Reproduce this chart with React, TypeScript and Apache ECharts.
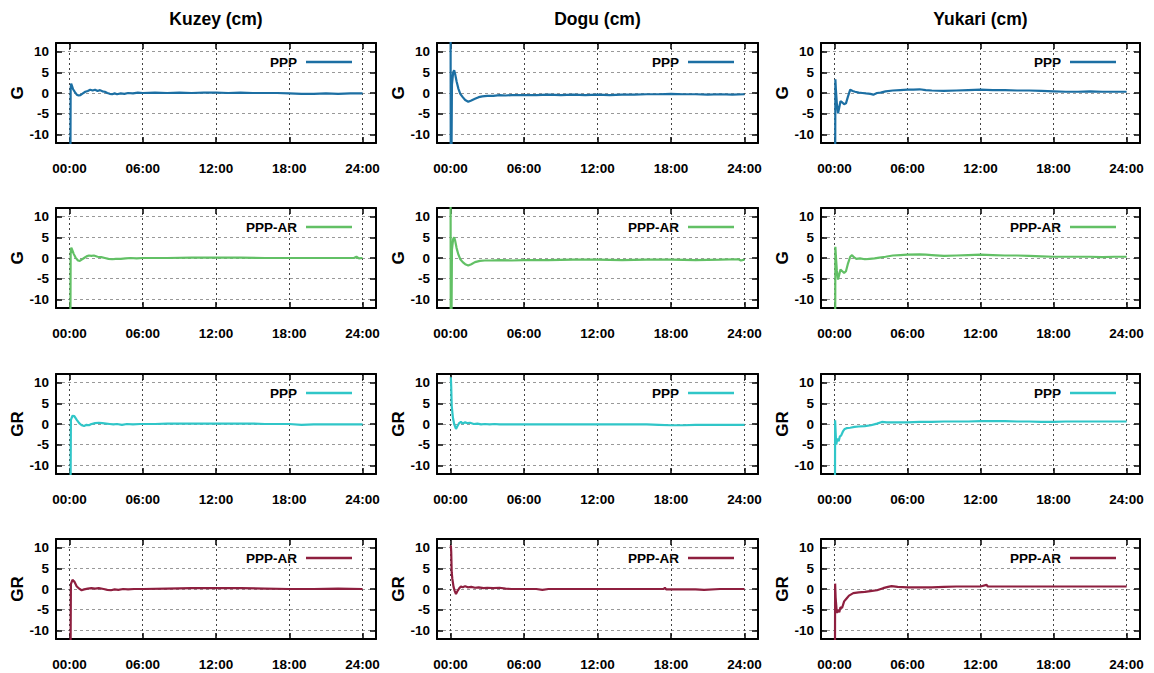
import React, { useEffect, useRef } from "react";
import * as echarts from "echarts";

// ---------- data ----------
const columnTitles = ["Kuzey (cm)", "Dogu (cm)", "Yukari (cm)"];
const rowLabels = ["G", "G", "GR", "GR"];
const rowMethods = ["PPP", "PPP-AR", "PPP", "PPP-AR"];
const rowColors = ["#1c6fa3", "#62c065", "#30c6c8", "#8e1f3f"];
const xTicks = [0, 6, 12, 18, 24];
const xTickLabels = ["00:00", "06:00", "12:00", "18:00", "24:00"];
const yTicks = [-10, -5, 0, 5, 10];

const kuzeyG_PPP = [[0.05,-40],[0.1,1.0],[0.14,2.3],[0.2,1.8],[0.3,0.9],[0.45,0.2],[0.6,-0.4],[0.75,-0.6],[0.9,-0.5],[1.1,-0.1],[1.3,0.3],[1.5,0.5],[1.7,0.8],[1.9,0.6],[2.1,0.8],[2.3,0.5],[2.5,0.7],[2.7,0.4],[2.9,0.3],[3.1,0.0],[3.3,-0.2],[3.5,-0.3],[3.7,-0.1],[3.9,-0.3],[4.2,-0.1],[4.5,-0.2],[4.8,0.0],[5.2,-0.1],[5.6,0.1],[6.0,0.0],[7,0.1],[8,0.0],[9,0.1],[10,0.0],[11,0.1],[12,0.1],[13,0.0],[14,0.1],[15,0.0],[16,0.0],[17,0.0],[18,-0.1],[19,-0.2],[20,-0.2],[21,-0.1],[22,-0.2],[23,-0.1],[24,-0.1]];
const kuzeyG_AR = [[0.05,-40],[0.1,1.2],[0.15,2.5],[0.22,2.0],[0.35,1.0],[0.5,0.1],[0.7,-0.6],[0.85,-0.7],[1.0,-0.4],[1.2,0.0],[1.4,0.4],[1.6,0.6],[1.8,0.5],[2.0,0.6],[2.3,0.3],[2.6,0.2],[2.9,0.0],[3.2,-0.2],[3.5,-0.3],[3.8,-0.2],[4.2,-0.2],[4.6,-0.1],[5.0,0.0],[5.5,-0.1],[6,0.0],[8,0.0],[10,0.1],[12,0.1],[14,0.1],[16,0.0],[18,0.0],[20,0.0],[22,0.0],[23.3,0.0],[23.5,0.3],[23.7,-0.1],[24,0.0]];
const kuzeyGR_PPP = [[0.05,-40],[0.12,1.0],[0.25,2.0],[0.4,1.9],[0.6,1.0],[0.8,0.2],[1.0,-0.3],[1.2,-0.5],[1.4,-0.2],[1.6,-0.3],[1.8,0.0],[2.1,0.2],[2.4,0.3],[2.7,0.2],[3.0,0.1],[3.3,0.0],[3.6,-0.1],[3.9,0.0],[4.3,-0.2],[4.7,0.0],[5.2,-0.1],[5.8,0.0],[7,0.0],[8,0.1],[10,0.1],[12,0.1],[14,0.1],[15,0.1],[16,0.0],[18,0.0],[19,-0.2],[20,-0.1],[22,-0.1],[24,-0.1]];
const kuzeyGR_AR = [[0.05,-40],[0.12,1.2],[0.25,2.2],[0.4,1.8],[0.6,0.6],[0.8,0.1],[1.0,-0.3],[1.2,-0.1],[1.5,0.1],[1.8,0.2],[2.1,0.1],[2.4,0.2],[2.8,0.0],[3.1,-0.2],[3.4,-0.3],[3.7,-0.1],[4.0,-0.2],[4.4,0.0],[4.8,-0.1],[5.3,0.0],[6,0.0],[8,0.1],[10,0.2],[12,0.2],[14,0.2],[16,0.1],[18,0.0],[20,0.0],[22,0.1],[24,0.0]];

const doguG_PPP = [[0.0,40],[0.03,-40],[0.12,2.0],[0.22,5.0],[0.3,5.5],[0.38,4.6],[0.5,2.8],[0.65,1.0],[0.8,-0.2],[1.0,-1.0],[1.2,-1.7],[1.45,-2.1],[1.7,-1.8],[2.0,-1.4],[2.3,-1.0],[2.6,-0.8],[3.0,-0.7],[3.5,-0.7],[4.0,-0.5],[4.5,-0.6],[5.0,-0.5],[6,-0.5],[7,-0.5],[8,-0.4],[9,-0.5],[10,-0.4],[11,-0.5],[12,-0.4],[13,-0.5],[14,-0.4],[15,-0.4],[16,-0.3],[17,-0.3],[18,-0.2],[19,-0.3],[20,-0.3],[21,-0.4],[22,-0.3],[23,-0.4],[24,-0.3]];
const doguG_AR = [[0.0,40],[0.03,-40],[0.12,2.0],[0.22,4.6],[0.3,5.0],[0.38,4.2],[0.5,2.4],[0.65,0.8],[0.8,-0.3],[1.0,-1.0],[1.2,-1.5],[1.45,-1.8],[1.7,-1.5],[2.0,-1.0],[2.4,-0.7],[2.8,-0.6],[3.3,-0.6],[4,-0.5],[5,-0.6],[6,-0.5],[8,-0.5],[10,-0.4],[12,-0.4],[14,-0.5],[16,-0.4],[18,-0.4],[20,-0.5],[22,-0.4],[23.5,-0.3],[23.7,-0.6],[24,-0.4]];
const doguGR_PPP = [[0.03,11.3],[0.06,9],[0.1,4.4],[0.2,1.5],[0.3,0.0],[0.45,-1.2],[0.55,-0.6],[0.7,0.2],[0.85,0.5],[1.0,0.1],[1.2,0.4],[1.4,0.2],[1.6,0.3],[1.9,0.0],[2.2,0.1],[2.5,-0.1],[2.8,0.0],[3.2,-0.1],[3.6,0.0],[4,-0.1],[5,-0.1],[6,-0.1],[8,-0.1],[10,-0.1],[12,-0.1],[14,-0.1],[16,-0.1],[17,-0.2],[18,-0.3],[19,-0.3],[20,-0.2],[22,-0.2],[24,-0.2]];
const doguGR_AR = [[0.03,10.6],[0.06,9],[0.1,4.0],[0.15,2.5],[0.25,0.5],[0.35,-0.5],[0.45,-1.2],[0.55,-0.6],[0.7,0.1],[0.85,0.6],[1.0,0.4],[1.2,0.7],[1.4,0.4],[1.7,0.5],[2.0,0.3],[2.3,0.4],[2.7,0.2],[3.0,0.3],[3.5,0.2],[4.0,0.3],[4.5,0.1],[5,0.0],[6,0.0],[7,0.0],[7.5,-0.2],[8,0.0],[10,0.0],[12,0.0],[14,0.0],[16,0.0],[17.4,0.0],[17.5,0.3],[17.6,-0.1],[18,-0.1],[20,-0.1],[20.7,-0.2],[22,0.0],[24,0.0]];

const yukariG_PPP = [[0.05,-40],[0.08,3.3],[0.12,1.0],[0.2,-2.5],[0.3,-4.9],[0.4,-3.5],[0.5,-2.0],[0.65,-2.3],[0.8,-2.7],[0.95,-2.5],[1.1,-1.0],[1.3,0.8],[1.5,0.5],[1.7,0.3],[2.0,0.1],[2.3,0.0],[2.6,-0.1],[2.95,-0.2],[3.2,-0.4],[3.5,0.0],[3.8,0.1],[4.2,0.4],[4.8,0.6],[5.4,0.7],[6,0.8],[6.5,0.8],[7,0.9],[7.5,0.7],[8,0.6],[9,0.5],[10,0.6],[11,0.7],[12,0.8],[13,0.7],[14,0.7],[15,0.6],[16,0.6],[17,0.5],[18,0.4],[19,0.3],[20,0.3],[21,0.4],[22,0.3],[23,0.3],[24,0.3]];
const yukariG_AR = [[0.05,-40],[0.08,2.7],[0.12,0.5],[0.2,-3],[0.3,-5.2],[0.4,-4.0],[0.5,-2.8],[0.65,-3.2],[0.8,-3.6],[0.95,-3.2],[1.1,-1.5],[1.3,0.3],[1.45,0.7],[1.6,0.2],[1.8,-0.2],[2.1,-0.1],[2.5,-0.3],[2.9,-0.2],[3.3,-0.1],[3.7,0.1],[4.2,0.3],[4.8,0.6],[5.4,0.7],[6,0.8],[7,0.9],[7.5,0.8],[8,0.7],[9,0.5],[10,0.6],[11,0.7],[12,0.8],[13,0.7],[14,0.6],[15,0.6],[16,0.5],[17,0.4],[18,0.3],[19,0.3],[20,0.3],[21,0.3],[22,0.2],[23,0.3],[24,0.3]];
const yukariGR_PPP = [[0.03,-40],[0.06,0.9],[0.1,-2],[0.15,-5.0],[0.25,-3.5],[0.35,-4.2],[0.45,-3.0],[0.55,-2.8],[0.7,-1.8],[0.85,-1.2],[1.0,-1.0],[1.3,-0.9],[1.65,-0.7],[2.0,-0.6],[2.5,-0.5],[3.0,-0.3],[3.5,0.1],[3.9,0.5],[4.3,0.4],[5.0,0.4],[6,0.4],[7,0.5],[8,0.5],[9,0.6],[10,0.6],[11,0.6],[12,0.7],[13,0.7],[14,0.7],[15,0.6],[16,0.6],[17,0.5],[18,0.5],[19,0.6],[20,0.6],[21,0.6],[22,0.6],[23,0.6],[24,0.6]];
const yukariGR_AR = [[0.03,-40],[0.06,1.3],[0.1,-2],[0.2,-5.8],[0.3,-5.0],[0.4,-5.6],[0.5,-4.4],[0.63,-4.6],[0.8,-3.0],[1.0,-2.3],[1.2,-1.6],[1.55,-1.0],[2.0,-0.8],[2.5,-0.7],[2.95,-0.5],[3.5,-0.3],[4.0,0.2],[4.4,0.5],[4.7,0.7],[5.2,0.5],[6,0.4],[7,0.4],[8,0.4],[9,0.5],[10,0.6],[11,0.6],[12,0.6],[12.5,1.0],[12.6,0.6],[13,0.6],[14,0.6],[15,0.6],[16,0.6],[17,0.6],[18,0.6],[19,0.6],[20,0.6],[22,0.6],[24,0.6]];

// panels[row][col]
const panelData = [
  [kuzeyG_PPP, doguG_PPP, yukariG_PPP],
  [kuzeyG_AR, doguG_AR, yukariG_AR],
  [kuzeyGR_PPP, doguGR_PPP, yukariGR_PPP],
  [kuzeyGR_AR, doguGR_AR, yukariGR_AR],
];

// ---------- layout ----------
const colLeft = [56, 437, 821];
const colWidth = [320, 321, 319];
const rowTop = [43, 208, 374, 539];
const plotH = 100;
const X_MIN = -1.1, X_MAX = 25.1, Y_MIN = -12.1, Y_MAX = 12.1;
const FONT = '"Liberation Sans", Arial, Helvetica, sans-serif';

function buildOption() {
  const grid: any[] = [];
  const xAxis: any[] = [];
  const yAxis: any[] = [];
  const series: any[] = [];
  const graphic: any[] = [];
  let g = 0;
  for (let r = 0; r < 4; r++) {
    for (let c = 0; c < 3; c++) {
      const left = colLeft[c], top = rowTop[r], w = colWidth[c];
      grid.push({ left, top, width: w, height: plotH, show: false, containLabel: false });
      const axisLine = { show: true, onZero: false, lineStyle: { color: "#000", width: 2 } };
      const tickStyle = { color: "#000", width: 1.5 };
      xAxis.push({
        gridIndex: g, type: "value", min: X_MIN, max: X_MAX, position: "bottom",
        axisLine,
        axisTick: { show: true, inside: true, length: 6, customValues: xTicks, lineStyle: tickStyle },
        axisLabel: {
          show: true, customValues: xTicks, margin: 18, color: "#000", fontWeight: "bold",
          fontSize: 13.5, fontFamily: FONT,
          formatter: (v: number) => { const i = xTicks.indexOf(v); return i >= 0 ? xTickLabels[i] : ""; },
        },
        splitLine: { show: true, lineStyle: { color: "#444", width: 1, type: [2, 3] } },
      });
      xAxis.push({
        gridIndex: g, type: "value", min: X_MIN, max: X_MAX, position: "top",
        axisLine,
        axisTick: { show: true, inside: true, length: 6, customValues: xTicks, lineStyle: tickStyle },
        axisLabel: { show: false },
        splitLine: { show: false },
      });
      yAxis.push({
        gridIndex: g, type: "value", min: Y_MIN, max: Y_MAX, position: "left",
        axisLine,
        axisTick: { show: true, inside: true, length: 6, customValues: yTicks, lineStyle: tickStyle },
        axisLabel: { show: true, customValues: yTicks, margin: 7, color: "#000", fontWeight: "bold", fontSize: 13.5, fontFamily: FONT },
        splitLine: { show: true, lineStyle: { color: "#999", width: 1, type: [3, 3] } },
        name: rowLabels[r], nameLocation: "middle", nameGap: 30,
        nameTextStyle: { color: "#000", fontWeight: "bold", fontSize: 17, fontFamily: FONT },
      });
      yAxis.push({
        gridIndex: g, type: "value", min: Y_MIN, max: Y_MAX, position: "right",
        axisLine,
        axisTick: { show: true, inside: true, length: 6, customValues: yTicks, lineStyle: tickStyle },
        axisLabel: { show: false },
        splitLine: { show: false },
      });
      series.push({
        name: rowMethods[r], type: "line", xAxisIndex: g * 2, yAxisIndex: g * 2,
        data: panelData[r][c], symbol: "none", showSymbol: false, clip: true, silent: true,
        color: rowColors[r], lineStyle: { color: rowColors[r], width: 2.2 },
      });
      const right = left + w;
      const ly = top + 19;
      graphic.push({
        type: "text", x: right - 79, y: ly,
        style: { text: rowMethods[r], fill: "#000", font: `bold 13.5px ${FONT}`, align: "right", verticalAlign: "middle", textAlign: "right", textVerticalAlign: "middle" },
      });
      graphic.push({
        type: "line", shape: { x1: right - 70, y1: ly, x2: right - 24, y2: ly },
        style: { stroke: rowColors[r], lineWidth: 2.5 },
      });
      g++;
    }
  }
  for (let c = 0; c < 3; c++) {
    graphic.push({
      type: "text", x: colLeft[c] + colWidth[c] / 2, y: 19,
      style: { text: columnTitles[c], fill: "#000", font: `bold 17.5px ${FONT}`, align: "center", verticalAlign: "middle", textAlign: "center", textVerticalAlign: "middle" },
    });
  }
  return {
    animation: false,
    backgroundColor: "#fff",
    textStyle: { fontFamily: FONT },
    grid, xAxis, yAxis, series, graphic,
  };
}

export default function App() {
  const ref = useRef<HTMLDivElement>(null);
  useEffect(() => {
    if (!ref.current) return;
    const chart = echarts.init(ref.current, undefined, { renderer: "svg" });
    chart.setOption(buildOption() as any);
    return () => chart.dispose();
  }, []);
  return (
    <div
      ref={ref}
      style={{ position: "absolute", left: 0, top: 0, width: 1154, height: 673, background: "#fff" }}
    />
  );
}
